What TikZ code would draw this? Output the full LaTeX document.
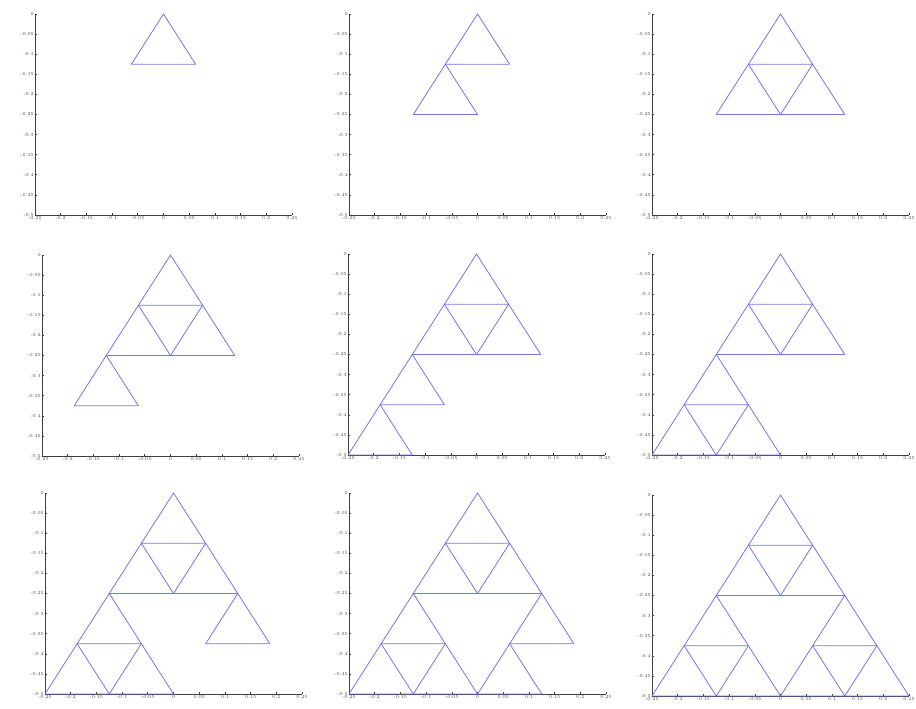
\documentclass[tikz,border=0pt]{standalone}
\definecolor{triblue}{RGB}{118,118,232}
\tikzset{
  axisline/.style={draw=black!75, line width=0.6pt},
  ticklbl/.style={font=\fontsize{4.6}{4.6}\selectfont, text=black!70, inner sep=1pt},
  tri/.style={draw=triblue, line width=0.8pt, line join=round}
}
\newcommand\sierpanel[3]{%
\begin{scope}[shift={(#1pt+128.5pt,-#2pt)}, x=514pt, y=402pt]
  \draw[axisline] (-0.25,0) -- (-0.25,-0.5) -- (0.25,-0.5);
  \foreach \v/\t in {-0.25/-0.25,-0.2/-0.2,-0.15/-0.15,-0.1/-0.1,-0.05/-0.05,0/0,0.05/0.05,0.1/0.1,0.15/0.15,0.2/0.2,0.25/0.25}{
    \draw[axisline] (\v,-0.5) -- ++(0,2pt);
    \node[ticklbl, below] at (\v,-0.5) {\t};
  }
  \foreach \v/\t in {0/0,-0.05/-0.05,-0.1/-0.1,-0.15/-0.15,-0.2/-0.2,-0.25/-0.25,-0.3/-0.3,-0.35/-0.35,-0.4/-0.4,-0.45/-0.45,-0.5/-0.5}{
    \draw[axisline] (-0.25,\v) -- ++(2pt,0);
    \node[ticklbl, left] at (-0.25,\v) {\t};
  }
  \foreach \ax/\ay [count=\i] in {0/0,-0.0625/-0.125,0.0625/-0.125,-0.125/-0.25,-0.1875/-0.375,-0.0625/-0.375,0.125/-0.25,0.0625/-0.375,0.1875/-0.375}{
    \ifnum\i>#3\relax\else
      \draw[tri] (\ax,\ay) -- (\ax-0.0625,\ay-0.125) -- (\ax+0.0625,\ay-0.125) -- cycle;
    \fi
  }
\end{scope}}
\begin{document}
\begin{tikzpicture}[x=1pt,y=1pt]
  \useasboundingbox (0,0) rectangle (916,-709);
  \fill[white] (0,0) rectangle (916,-709);
  \sierpanel{35}{14}{1}
  \sierpanel{349}{14}{2}
  \sierpanel{652}{14}{3}
  \sierpanel{42}{255}{4}
  \sierpanel{348}{254}{5}
  \sierpanel{652}{254}{6}
  \sierpanel{45}{493}{7}
  \sierpanel{349}{493}{8}
  \sierpanel{652}{495}{9}
\end{tikzpicture}
\end{document}
